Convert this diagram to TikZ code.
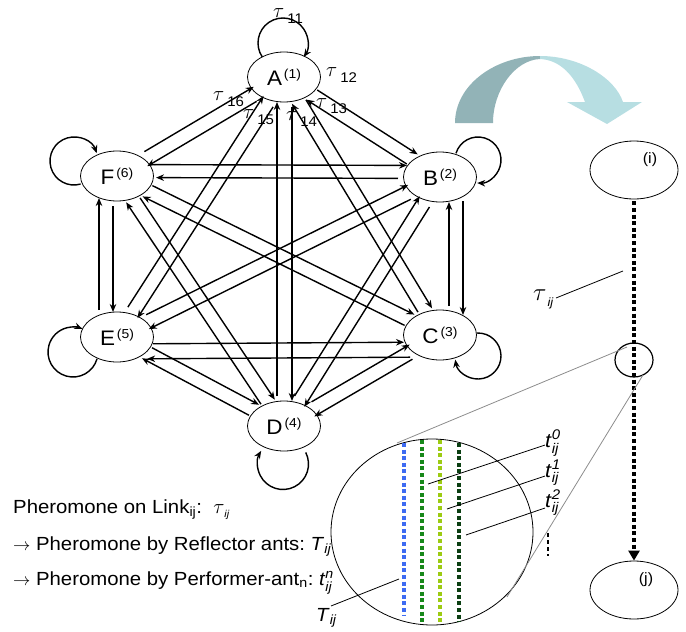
\documentclass[tikz,border=0pt]{standalone}
\usepackage{amsmath}
\usepackage{fontspec}
\setmainfont[FakeStretch=1.07]{Liberation Sans}
\usetikzlibrary{shapes.geometric,arrows.meta,calc}
\definecolor{tdark}{HTML}{92B3B7}
\definecolor{tlight}{HTML}{B7DEE2}
\definecolor{cblue}{HTML}{3D6BF2}
\definecolor{cgreen}{HTML}{17881A}
\definecolor{clime}{HTML}{9CCB12}
\definecolor{cdark}{HTML}{0B3F12}
\newcommand\nodetxt[2]{{\fontsize{21}{21}\selectfont #1}\hspace{2pt}\raisebox{7pt}{\fontsize{13}{13}\selectfont (#2)}}
\newcommand\tauf{{\fontsize{21}{21}\selectfont$\tau$}}
\newcommand\taulab[1]{\tauf\hspace{3pt}\raisebox{-6.5pt}{\fontsize{14}{14}\selectfont #1}}
\newcommand\dedge[5]{\draw[arr, shorten <=#4pt, shorten >=#5pt] ($(#1)!#3pt!90:(#2)$) -- ($(#2)!#3pt!-90:(#1)$);}
\begin{document}
\begin{tikzpicture}[x=1pt,y=-1pt,
  st/.style={draw, ellipse, minimum width=73pt, minimum height=50pt, inner sep=0pt, line width=0.8pt},
  side/.style={draw, ellipse, minimum width=88pt, minimum height=58pt, inner sep=0pt, line width=0.8pt},
  arr/.style={line width=1.4pt, -{Stealth[length=8pt,width=6.5pt]}},
  lbl/.style={inner sep=0pt, anchor=base west},
  thinl/.style={line width=0.8pt},
  dots/.style={line width=4pt, dash pattern=on 4pt off 2.6pt}
]
\useasboundingbox (0,0) rectangle (686,632);

% ---- graph nodes
\node[st] (A) at (284,77) {\nodetxt{A}{1}};
\node[st] (B) at (440,177) {\nodetxt{B}{2}};
\node[st] (C) at (440,335) {\nodetxt{C}{3}};
\node[st] (D) at (284,426) {\nodetxt{D}{4}};
\node[st] (E) at (117,337) {\nodetxt{E}{5}};
\node[st] (F) at (117,176) {\nodetxt{F}{6}};

% ---- directed edges (from, to, offset, shorten start, shorten end)
\dedge{A}{B}{7}{35}{31}
\dedge{B}{A}{7}{35}{31}
\dedge{A}{C}{7}{31}{27}
\dedge{C}{A}{7}{31}{27}
\dedge{A}{D}{8}{30}{25}
\dedge{D}{A}{7}{30}{25}
\dedge{A}{E}{7}{31}{27}
\dedge{E}{A}{7}{31}{27}
\dedge{A}{F}{7}{36}{31}
\dedge{F}{A}{7}{36}{31}
\dedge{B}{C}{23}{24}{20}
\dedge{C}{B}{-9}{29}{25}
\dedge{B}{D}{7}{31}{27}
\dedge{D}{B}{7}{31}{27}
\dedge{B}{E}{7}{36}{32}
\dedge{E}{B}{7}{36}{32}
\dedge{F}{B}{11.5}{37}{33}
\dedge{B}{F}{1.5}{42}{39}
\dedge{C}{D}{7}{36}{31}
\dedge{D}{C}{7}{36}{31}
\dedge{C}{E}{22}{30}{30}
\dedge{E}{C}{-7}{36}{36}
\dedge{D}{E}{7}{36}{32}
\dedge{E}{D}{7}{36}{32}
\dedge{D}{F}{7}{31}{27}
\dedge{F}{D}{7}{31}{27}
\dedge{E}{F}{18}{27}{22}
\dedge{F}{E}{-4}{30}{25}
\dedge{F}{C}{7}{36}{32}
\dedge{C}{F}{7}{36}{32}

% ---- self loops (circular arcs; angles measured clockwise on screen)
\draw[arr] (A) ++(-1,-34) ++(146:25) arc[start angle=146, end angle=394, radius=25];
\draw[arr] (B) ++(38,-17) ++(197:23) arc[start angle=197, end angle=452, radius=23];
\draw[arr] (F) ++(-43,-15) ++(74:24) arc[start angle=74, end angle=341, radius=24];
\draw[arr] (C) ++(38,21) ++(-92:23) arc[start angle=-92, end angle=171, radius=23];
\draw[arr] (E) ++(-44,15) ++(16:25) arc[start angle=16, end angle=292, radius=25];
\draw[arr] (D) ++(-1,38) ++(-27:25.5) arc[start angle=-27, end angle=211, radius=25.5];

% ---- tau labels
\node[lbl] (t11) at (273,17) {\taulab{11}};
\node[lbl] (t12) at (326,76) {\taulab{12}};
\node[lbl] (t13) at (316,107) {\taulab{13}};
\node[lbl] (t14) at (286,120) {\taulab{14}};
\node[lbl] (t15) at (243,118) {\taulab{15}};
\node[lbl] (t16) at (213,100) {\taulab{16}};

% ---- curved arrow
\fill[tdark] (455,123) .. controls (455,85) and (495,56) .. (540,56) -- (540,59) .. controls (515,60) and (493,90) .. (493,123) -- cycle;
\fill[tlight] (540,56) .. controls (580,56) and (615,78) .. (623,102) -- (642,102) -- (607,124) -- (567,102) -- (585,102) .. controls (575,75) and (560,60) .. (540,59) -- cycle;

% ---- right side link
\node[side] (I) at (634,170) {};
\node[inner sep=0pt] (Ilab) at (650,160) {\fontsize{15}{15}\selectfont (i)};
\node[side] (J) at (634,590) {};
\node[inner sep=0pt] (Jlab) at (646,580) {\fontsize{15}{15}\selectfont (j)};
\draw[dots, -{Triangle[length=10pt,width=11pt]}, shorten <=2pt] (I) -- (J);
\node[draw, ellipse, minimum width=38pt, minimum height=34pt, inner sep=0pt, line width=1.2pt] (zc) at (634,360) {};
\node[lbl] (tauij) at (533,300) {{\fontsize{25}{25}\selectfont$\tau$}\hspace{1pt}\raisebox{-6pt}{\fontsize{12}{12}\selectfont\textit{ij}}};
\coordinate (tl1) at (556,298);
\coordinate (tl2) at (623,271);
\draw[thinl] (tl1) -- (tl2);

% ---- zoom lines and magnified ellipse
\node[draw, ellipse, minimum width=202pt, minimum height=186pt, inner sep=0pt, line width=0.8pt] (big) at (432,532) {};
\coordinate (z1) at (627,347);
\coordinate (z2) at (397,443);
\coordinate (z3) at (643,375);
\coordinate (z4) at (507,597);
\draw[gray!90, line width=0.8pt] (z1) -- (z2);
\draw[gray!90, line width=0.8pt] (z3) -- (z4);

\coordinate (b1) at (404,443); \coordinate (b2) at (404,615);
\coordinate (g1) at (422,440); \coordinate (g2) at (422,624);
\coordinate (l1) at (440,440); \coordinate (l2) at (440,624);
\coordinate (d1) at (459,443); \coordinate (d2) at (459,622);
\draw[dots, cblue] (b1) -- (b2);
\draw[dots, cgreen] (g1) -- (g2);
\draw[dots, clime] (l1) -- (l2);
\draw[dots, cdark] (d1) -- (d2);

\node[lbl] (tz) at (545,447) {\fontsize{20}{20}\selectfont\textit{t}$_{\textit{ij}}^{\textit{0}}$};
\node[lbl] (to) at (545,477) {\fontsize{20}{20}\selectfont\textit{t}$_{\textit{ij}}^{\textit{1}}$};
\node[lbl] (tt) at (545,507) {\fontsize{20}{20}\selectfont\textit{t}$_{\textit{ij}}^{\textit{2}}$};
\coordinate (p0) at (428,484); \coordinate (q0) at (545,445);
\coordinate (p1) at (447,509); \coordinate (q1) at (545,476);
\coordinate (p2) at (466,535); \coordinate (q2) at (545,508);
\draw[thinl] (p0) -- (q0);
\draw[thinl] (p1) -- (q1);
\draw[thinl] (p2) -- (q2);
\coordinate (v1) at (548,533); \coordinate (v2) at (548,556);
\draw[line width=2.5pt, dash pattern=on 4pt off 3pt] (v1) -- (v2);

\node[lbl] (Tbig) at (316,621) {\fontsize{19}{19}\selectfont\textit{T}$_{\textit{ij}}$};
\coordinate (tp) at (331,606); \coordinate (tq) at (399,579);
\draw[thinl] (tp) -- (tq);

% ---- legend
\node[lbl] (leg1) at (13,513) {\fontsize{19}{19}\selectfont Pheromone on Link\textsubscript{ij}:\ \ {\fontsize{21}{21}\selectfont$\tau$}\raisebox{-4pt}{\fontsize{10}{10}\selectfont\textit{ij}}};
\node[lbl] (leg2) at (13,550) {\fontsize{19}{19}\selectfont $\rightarrow$\ Pheromone by Reflector ants:\ \textit{T}$_{\textit{ij}}$};
\node[lbl] (leg3) at (13,585) {\fontsize{19}{19}\selectfont $\rightarrow$\ Pheromone by Performer-ant\textsubscript{n}:\ \textit{t}$_{\textit{ij}}^{\textit{n}}$};
\end{tikzpicture}
\end{document}
